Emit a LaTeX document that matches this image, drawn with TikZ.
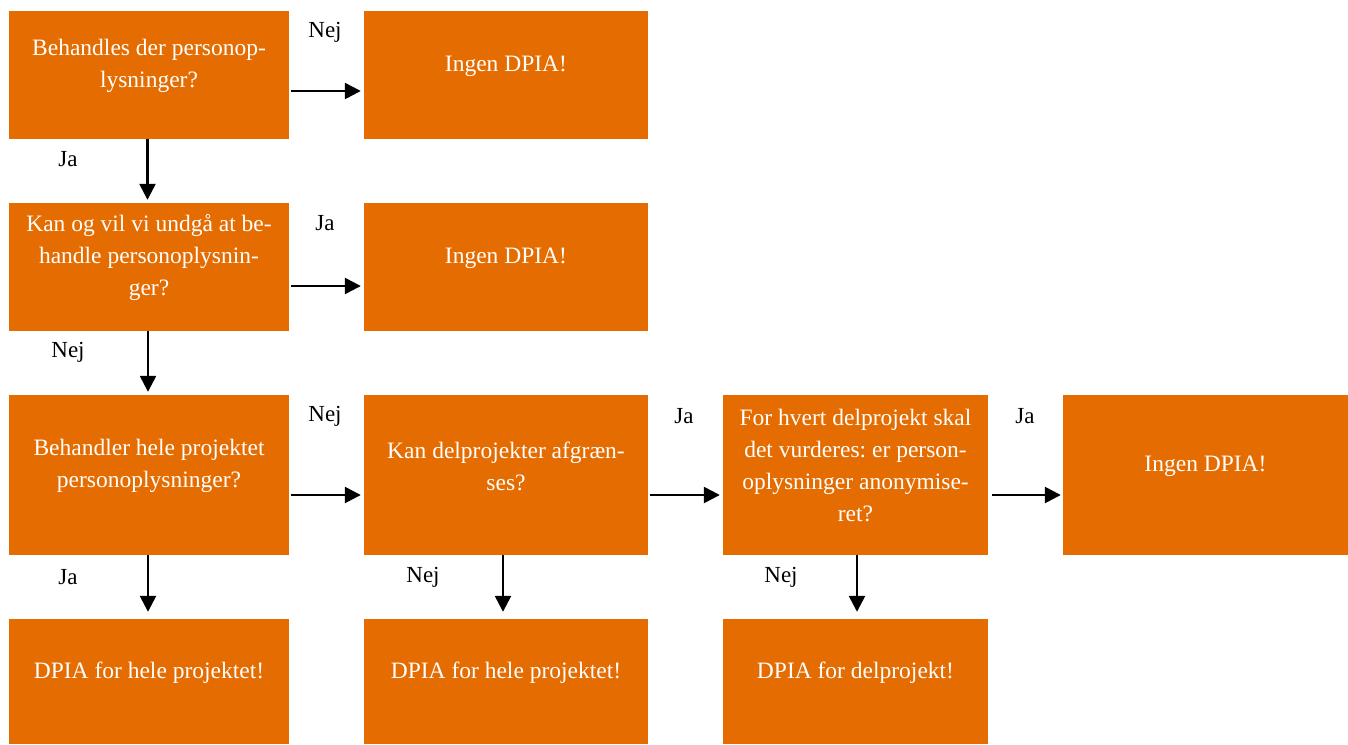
\documentclass[tikz,border=0pt]{standalone}
\usepackage{fontspec}
\setmainfont{Liberation Serif}
\usetikzlibrary{arrows.meta}
\definecolor{boxorange}{RGB}{229,108,0}
\frenchspacing
\begin{document}
\begin{tikzpicture}[x=1pt,y=-1pt,
  boxnode/.style={fill=boxorange, draw=none, inner sep=0pt},
  boxtext/.style={text=white, inner sep=0pt, font=\fontsize{23.5}{32}\selectfont, align=center},
  lbl/.style={font=\fontsize{23}{26}\selectfont, text=black, inner sep=0pt},
  conn/.style={line width=2.5pt, -{Triangle[length=16pt,width=16pt]}, shorten >=3pt, shorten <=2pt}]
\useasboundingbox (0,0) rectangle (1348,744);
% boxes
\node[boxnode, minimum width=280pt, minimum height=128pt] (b1) at (149,75) {};
\node[boxnode, minimum width=284pt, minimum height=128pt] (b2) at (506,75) {};
\node[boxnode, minimum width=280pt, minimum height=128pt] (b3) at (149,267) {};
\node[boxnode, minimum width=284pt, minimum height=128pt] (b4) at (506,267) {};
\node[boxnode, minimum width=280pt, minimum height=160pt] (b5) at (149,475) {};
\node[boxnode, minimum width=284pt, minimum height=160pt] (b6) at (506,475) {};
\node[boxnode, minimum width=265pt, minimum height=160pt] (b7) at (855.5,475) {};
\node[boxnode, minimum width=285pt, minimum height=160pt] (b8) at (1205.5,475) {};
\node[boxnode, minimum width=280pt, minimum height=125pt] (b9) at (149,681.5) {};
\node[boxnode, minimum width=284pt, minimum height=125pt] (b10) at (506,681.5) {};
\node[boxnode, minimum width=265pt, minimum height=125pt] (b11) at (855.5,681.5) {};
% texts
\node[boxtext] (t1) at ([yshift=9pt]b1.center) {Behandles der personop-\\lysninger?};
\node[boxtext] (t2) at ([yshift=9pt]b2.center) {Ingen DPIA!};
\node[boxtext] (t3) at ([yshift=9pt]b3.center) {Kan og vil vi undgå at be-\\handle personoplysnin-\\ger?};
\node[boxtext] (t4) at ([yshift=9pt]b4.center) {Ingen DPIA!};
\node[boxtext] (t5) at ([yshift=9pt]b5.center) {Behandler hele projektet\\personoplysninger?};
\node[boxtext] (t6) at ([yshift=9pt]b6.center) {Kan delprojekter afgræn-\\ses?};
\node[boxtext] (t7) at ([yshift=9pt]b7.center) {For hvert delprojekt skal\\det vurderes: er person-\\oplysninger anonymise-\\ret?};
\node[boxtext] (t8) at ([yshift=9pt]b8.center) {Ingen DPIA!};
\node[boxtext] (t9) at ([yshift=9pt]b9.center) {DPIA for hele projektet!};
\node[boxtext] (t10) at ([yshift=9pt]b10.center) {DPIA for hele projektet!};
\node[boxtext] (t11) at ([yshift=9pt]b11.center) {DPIA for delprojekt!};
% labels
\node[lbl] (l1) at (325,32) {Nej};
\node[lbl] (l2) at (68,159) {Ja};
\node[lbl] (l3) at (325,223) {Ja};
\node[lbl] (l4) at (68,352) {Nej};
\node[lbl] (l5) at (325,416) {Nej};
\node[lbl] (l6) at (684,416) {Ja};
\node[lbl] (l7) at (1025,416) {Ja};
\node[lbl] (l8) at (68,577) {Ja};
\node[lbl] (l9) at (423,577) {Nej};
\node[lbl] (l10) at (781,577) {Nej};
% connectors
\draw[conn] ([yshift=-16pt]b1.east) -- ([yshift=-16pt]b2.west);
\draw[conn] ([yshift=-19pt]b3.east) -- ([yshift=-19pt]b4.west);
\draw[conn] ([yshift=-20pt]b5.east) -- ([yshift=-20pt]b6.west);
\draw[conn] ([yshift=-20pt]b6.east) -- ([yshift=-20pt]b7.west);
\draw[conn, shorten <=4pt, shorten >=2pt] ([yshift=-20pt]b7.east) -- ([yshift=-20pt]b8.west);
\draw[conn, shorten <=0pt] ([xshift=-1.5pt]b1.south) -- ([xshift=-1.5pt]b3.north);
\draw[conn, shorten <=0pt] ([xshift=-1pt]b3.south) -- ([xshift=-1pt]b5.north);
\draw[conn, shorten <=0pt, shorten >=7pt] ([xshift=-1pt]b5.south) -- ([xshift=-1pt]b9.north);
\draw[conn, shorten <=0pt, shorten >=7pt] ([xshift=-3pt]b6.south) -- ([xshift=-3pt]b10.north);
\draw[conn, shorten <=0pt, shorten >=7pt] ([xshift=1.5pt]b7.south) -- ([xshift=1.5pt]b11.north);
\end{tikzpicture}
\end{document}
